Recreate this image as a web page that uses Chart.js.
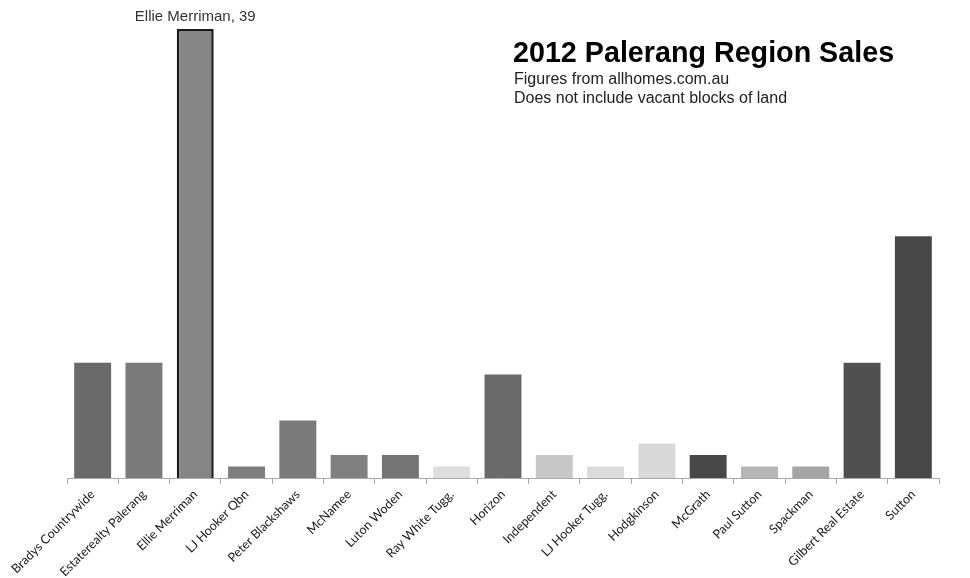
<!DOCTYPE html>
<html>
<head>
<meta charset="utf-8">
<script src="https://cdn.jsdelivr.net/npm/chart.js@4/dist/chart.umd.min.js"></script>
<style>
  body { margin: 0; background: #fff; }
  #wrap { width: 970px; height: 578px; }
</style>
</head>
<body>
<div id="wrap"><canvas id="myChart" width="970" height="578"></canvas></div>
<script>
// --- data ---
const agents = ['Bradys Countrywide', 'Estaterealty Palerang', 'Ellie Merriman', 'LJ Hooker Qbn',
  'Peter Blackshaws', 'McNamee', 'Luton Woden', 'Ray White Tugg.', 'Horizon', 'Independent',
  'LJ Hooker Tugg.', 'Hodgkinson', 'McGrath', 'Paul Sutton', 'Spackman', 'Gilbert Real Estate', 'Sutton'];
const sales = [10, 10, 39, 1, 5, 2, 2, 1, 9, 2, 1, 3, 2, 1, 1, 10, 21];
const barColors = ['#6a6a6a', '#7a7a7a', '#858585', '#7f7f7f', '#7a7a7a', '#808080', '#747474', '#dedede',
  '#6a6a6a', '#c8c8c8', '#dcdcdc', '#d9d9d9', '#484848', '#b5b5b5', '#a5a5a5', '#505050', '#474747'];
const highlight = 2; // Ellie Merriman

const titleText = '2012 Palerang Region Sales';
const subLines = ['Figures from allhomes.com.au', 'Does not include vacant blocks of land'];

// tulisan judul + label di atas bar tertinggi
const extraText = {
  id: 'extraText',
  afterDraw(chart) {
    const ctx = chart.ctx;
    ctx.save();
    ctx.fillStyle = '#000';
    ctx.font = 'bold 28.7px "Liberation Sans", Arial, sans-serif';
    ctx.textBaseline = 'alphabetic';
    ctx.fillText(titleText, 513, 62);
    ctx.fillStyle = '#222';
    ctx.font = '16px "Liberation Sans", Arial, sans-serif';
    ctx.fillText(subLines[0], 514, 84);
    ctx.fillText(subLines[1], 514, 103);

    const bar = chart.getDatasetMeta(0).data[highlight];
    ctx.fillStyle = '#333';
    ctx.textAlign = 'center';
    ctx.font = '15px "Liberation Sans", Arial, sans-serif';
    ctx.fillText(agents[highlight] + ', ' + sales[highlight], bar.x, 21);
    ctx.restore();
  }
};

new Chart(document.getElementById('myChart').getContext('2d'), {
  type: 'bar',
  data: {
    labels: agents,
    datasets: [{
      data: sales,
      backgroundColor: barColors,
      borderColor: '#1a1a1a',
      borderWidth: sales.map((v, i) => i === highlight ? 2.5 : 0),
      categoryPercentage: 1,
      barPercentage: 0.72
    }]
  },
  options: {
    responsive: false,
    devicePixelRatio: 1,
    animation: false,
    layout: { padding: { top: 29, right: 31, left: 0, bottom: 0 } },
    plugins: { legend: { display: false }, tooltip: { enabled: false } },
    scales: {
      y: { display: false, min: 0, max: 39 },
      x: {
        afterFit(scale) {
          scale.paddingLeft = 67;
          scale.paddingRight = 0;
          scale.height = 100;
        },
        grid: { drawOnChartArea: false, color: '#aaa', tickLength: 6, offset: true },
        border: { color: '#aaa', width: 1 },
        ticks: {
          minRotation: 45, maxRotation: 45, autoSkip: false,
          color: '#1a1a1a',
          font: { family: 'Lato, "Open Sans", sans-serif', size: 12.5 }
        }
      }
    }
  },
  plugins: [extraText]
});
</script>
</body>
</html>
